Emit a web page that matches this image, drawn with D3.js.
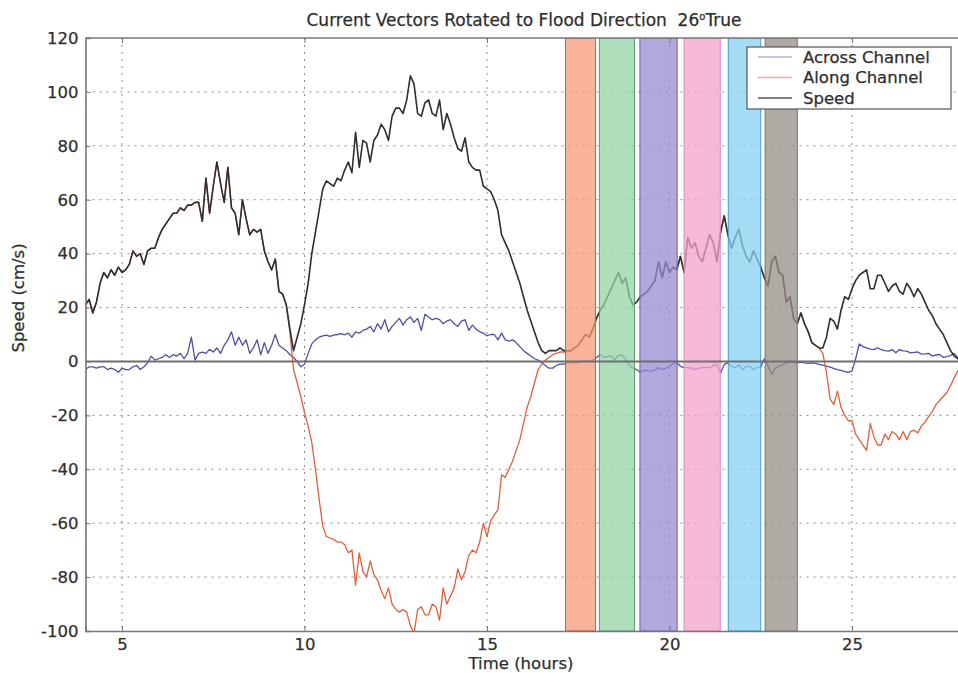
<!DOCTYPE html>
<html>
<head>
<meta charset="utf-8">
<script src="https://cdn.jsdelivr.net/npm/d3@7"></script>
<style>
  body { margin: 0; background: #fff; }
  text { font-family: "DejaVu Sans", "Liberation Sans", Arial, sans-serif; fill: #2e2e2e; stroke: #2e2e2e; stroke-width: 0.25px; }
</style>
</head>
<body>
<svg id="chart"></svg>
<script>
// samples every 0.1 h starting at 4 h
var t0 = 4, dt = 0.1

var speed = [
  21,23,18,22,29,33,31,34,32,35,
  33,34,36,41,39,40,36,41,42,42,
  46,49,51,53,55,55,57,56,58,58,
  59,59,52,68,55,65,74,66,59,72,
  57,55,47,60,53,47,49,48,49,41,
  37,34,38,26,25,21,12,4,9,14,
  21,29,40,48,56,64,67,66,65,68,
  67,71,74,70,85,72,82,81,74,82,
  84,88,86,82,91,94,94,92,97,106,
  103,92,91,96,97,92,91,97,86,92,
  88,83,79,78,83,74,72,71,71,65,
  64,63,60,56,47,44,41,37,33,29,
  24,19,15,11,7,4,3,4,4,4,
  5,4,4,4,5,6,8,10,9,12,
  16,19,21,24,27,30,33,29,31,24,
  21,22,24,25,26,28,30,37,31,37,
  33,35,34,39,33,46,42,44,39,37,
  42,47,44,37,48,54,47,42,46,49,
  43,39,37,41,38,35,31,28,37,39,
  33,32,22,24,16,14,18,14,11,7,
  6,5,5,9,16,15,12,19,24,23,
  27,30,32,33,34,27,27,32,32,29,
  26,28,29,26,25,29,27,24,27,25,
  22,19,17,14,12,10,7,4,2,1,
  1
]

var across = [
  -3,-2,-2,-2.5,-2,-2,-3,-2.5,-3,-4,
  -2.5,-3,-3,-2,-1.5,-3,-2,-0.5,2,0.5,
  1,1.5,2.5,1.5,2.5,2,3,1,3,9,
  0.5,3,3.5,3,4.5,3.5,5,3,6,8,
  11,6,9,6,8,3,5,8,2.5,7,
  3,6,10,6,5,4,2.5,1.5,0,-2,
  -1,3,6.5,8,9,9.5,9.8,9.3,9.8,10,
  10.3,9.9,10.5,9,11,10.5,11.5,12,13,11,
  14,12,15.5,11,13,14.5,16,13.5,15.5,16.5,
  14.5,16,11.5,17.5,16.5,15.5,16,15.5,14,15,
  15.5,14,13,15,15.5,11.5,13.5,12,11,10.5,
  9.5,10,10,8,10.5,8,7.5,8,7,5.5,
  4,3,2,1,0.5,-0.5,-1.5,-2.5,-2.5,-1.5,
  -1,-1,-0.5,-0.5,-0.5,-0.3,0,0,0,0.5,
  1.5,2.6,1.5,1.8,2,0.7,2.2,2.4,1,-1.5,
  -2.5,-3,-4,-3.2,-3.5,-3.6,-3.2,-2.3,-3,-2.5,
  -1.7,-0.8,-0.5,-1.8,-2.3,-2.3,-2.5,-3,-2.6,-2.3,
  -2.3,-2.3,-1.5,-1.1,-4.2,-1.1,-0.5,-1.8,-2.3,-1.2,
  -3,-2,-1.7,-3,-2.3,-2,1,-1.5,-4.8,-2.5,
  -1.7,-1.3,-0.5,0.1,-0.3,-0.5,-0.2,-0.5,-0.7,-0.5,
  -0.7,-1.1,-1.4,-1.7,-2.1,-2.6,-3,-3.3,-3.8,-4,
  -3.6,1,6.5,5.5,5,4.6,4.4,5.1,4.4,4,
  3.8,4.4,3.2,4.4,3.9,3.8,3.2,3.4,3.5,2.7,
  2.8,3,2,2.4,2.6,1.5,1.8,2.2,3,1.4,
  0.7
]

var along = [
  21,23,18,22,29,33,31,34,32,35,
  33,34,36,41,39,40,36,41,42,42,
  46,49,51,53,55,55,57,56,58,58,
  59,59,52,68,55,65,74,66,59,72,
  57,55,47,60,53,47,49,48,49,41,
  37,34,38,26,25,21,11,-3,-8,-13,
  -19,-24,-30,-40,-51,-61,-65,-65.5,-66,-67,
  -67,-68,-71,-70,-83,-71,-78,-80,-74,-79,
  -81,-85,-88,-84,-90,-92,-93,-92,-93,-98,
  -101,-92,-91,-94,-94,-90,-91,-96,-84,-90,
  -87,-84,-77,-81,-78,-72,-70,-71,-67,-60,
  -65,-59,-57,-55,-42,-43,-40,-37,-33,-29,
  -23,-17,-13,-8,-3,-1,0.5,1.5,2.5,3,
  3.5,3.5,3.5,4,5,6,8,10,9,12,
  16,19,21,24,27,30,33,29,31,24,
  21,22,24,25,26,28,30,37,31,37,
  33,35,34,39,33,46,42,44,39,37,
  42,47,44,37,48,54,47,42,46,49,
  43,39,37,41,38,35,31,28,37,39,
  33,32,22,24,16,14,18,14,11,7,
  6,5,3,-4,-14,-16,-11,-17,-20,-22,
  -22,-27,-29,-31,-33,-23,-28,-31,-31,-27,
  -29,-26,-27,-29,-26,-29,-26,-25.5,-26.5,-24,
  -22.5,-20.5,-18.5,-16,-14.5,-13,-11.5,-9,-6,-3.5,
  -2
]

// shaded sampling windows (hours)
var bands = [
  {from: 17.15, to: 17.97, fill: "#f59a78", edge: "#c8613f"},
  {from: 18.08, to: 19.04, fill: "#93d3a6", edge: "#5d9e6e"},
  {from: 19.19, to: 20.21, fill: "#978bd2", edge: "#6d62aa"},
  {from: 20.40, to: 21.39, fill: "#f3a3cb", edge: "#d98ab4"},
  {from: 21.61, to: 22.50, fill: "#86d2f2", edge: "#3c9fd2"},
  {from: 22.62, to: 23.50, fill: "#968d86", edge: "#7a716b"}
]

var xTicks = [5, 10, 15, 20, 25]
var yTicks = [-100, -80, -60, -40, -20, 0, 20, 40, 60, 80, 100, 120]

var series = [
  {name: "Across Channel", values: across, color: "#4f4fa8", key: "#b3b0e6", w: 1.3},
  {name: "Along Channel", values: along, color: "#e0603e", key: "#f2aaaa", w: 1.3},
  {name: "Speed", values: speed, color: "#2f2f2f", key: "#555555", w: 1.6}
]

var width = 958, height = 673
var pLeft = 85.5, pRight = 961.5, pTop = 38, pBottom = 631

var svg = d3.select("#chart")
    .attr("width", width)
    .attr("height", height)

svg.append("rect").attr("width", width).attr("height", height).attr("fill", "#fff")

var x = d3.scaleLinear().domain([4, 28]).range([pLeft, pRight])
var y = d3.scaleLinear().domain([-100, 120]).range([pBottom, pTop])

svg.append("defs").append("clipPath").attr("id", "plot")
    .append("rect")
    .attr("x", pLeft).attr("y", pTop)
    .attr("width", pRight - pLeft).attr("height", pBottom - pTop)

// grid
var grid = svg.append("g")
    .attr("stroke", "#8a8a8a")
    .attr("stroke-width", 1)
    .attr("stroke-dasharray", "2,5")
grid.selectAll("line.gx")
    .data(xTicks)
    .enter()
    .append("line")
        .attr("x1", d => x(d)).attr("x2", d => x(d))
        .attr("y1", pTop).attr("y2", pBottom)
grid.selectAll("line.gy")
    .data(yTicks.filter(d => d != 0 && d != 120 && d != -100))
    .enter()
    .append("line")
        .attr("x1", pLeft).attr("x2", pRight)
        .attr("y1", d => y(d)).attr("y2", d => y(d))

var plot = svg.append("g").attr("clip-path", "url(#plot)")

var line = d3.line()
    .x((d, i) => x(t0 + i * dt))
    .y(d => y(d))

series.forEach(function (s) {
    plot.append("path")
        .datum(s.values)
        .attr("d", line)
        .attr("fill", "none")
        .attr("stroke", s.color)
        .attr("stroke-width", s.w)
        .attr("stroke-linejoin", "round")
})

plot.selectAll("rect.band")
    .data(bands)
    .enter()
    .append("rect")
        .attr("x", d => x(d.from))
        .attr("y", pTop)
        .attr("width", d => x(d.to) - x(d.from))
        .attr("height", pBottom - pTop)
        .attr("fill", d => d.fill)
        .attr("fill-opacity", 0.75)
        .attr("stroke", d => d.edge)
        .attr("stroke-width", 1)

// zero line
svg.append("line")
    .attr("x1", pLeft).attr("x2", pRight)
    .attr("y1", y(0)).attr("y2", y(0))
    .attr("stroke", "#6e6e6e")
    .attr("stroke-width", 2)

// axes
var xAxis = d3.axisBottom(x).tickValues(xTicks).tickSize(-5).tickPadding(7)
var yAxis = d3.axisLeft(y).tickValues(yTicks).tickSize(-5).tickPadding(7)
    .tickFormat(d => String(d))

var gx = svg.append("g").attr("transform", "translate(0," + pBottom + ")").call(xAxis)
var gy = svg.append("g").attr("transform", "translate(" + pLeft + ",0)").call(yAxis)
;[gx, gy].forEach(function (g) {
    g.select(".domain").attr("stroke", "#777").attr("stroke-width", 1.6)
    g.selectAll(".tick line").attr("stroke", "#777")
    g.selectAll("text")
        .style("font-family", "'DejaVu Sans', sans-serif")
        .style("font-size", "16.5px")
        .attr("fill", "#2e2e2e")
})
svg.append("line")
    .attr("x1", pLeft).attr("x2", pRight)
    .attr("y1", pTop).attr("y2", pTop)
    .attr("stroke", "#777").attr("stroke-width", 1.6)
svg.append("g").attr("transform", "translate(0," + pTop + ")")
    .call(d3.axisTop(x).tickValues(xTicks).tickSize(-5).tickFormat(""))
    .call(g => g.select(".domain").remove())
    .selectAll("line").attr("stroke", "#777")

// labels
var title = svg.append("text")
    .attr("x", 524).attr("y", 26)
    .attr("text-anchor", "middle")
    .style("font-size", "17px")
title.append("tspan").text("Current Vectors Rotated to Flood Direction\u00a0\u00a026")
title.append("tspan").attr("dy", -6).style("font-size", "10px").text("o")
title.append("tspan").attr("dy", 6).text("True")

svg.append("text")
    .attr("x", 521).attr("y", 669)
    .attr("text-anchor", "middle")
    .style("font-size", "16.5px")
    .text("Time (hours)")

svg.append("text")
    .attr("transform", "translate(24,298) rotate(-90)")
    .attr("text-anchor", "middle")
    .style("font-size", "16.5px")
    .text("Speed (cm/s)")

// legend
var legend = svg.append("g")
legend.append("rect")
    .attr("x", 747).attr("y", 47)
    .attr("width", 204).attr("height", 62)
    .attr("fill", "#fff")
    .attr("stroke", "#555")
    .attr("stroke-width", 1.2)
var rows = legend.selectAll("g.row")
    .data(series)
    .enter()
    .append("g")
        .attr("transform", (d, i) => "translate(0," + (57 + i * 20.5) + ")")
rows.append("line")
    .attr("x1", 758).attr("x2", 792)
    .attr("stroke", d => d.key)
    .attr("stroke-width", 1.5)
rows.append("text")
    .attr("x", 803).attr("dy", "0.35em")
    .style("font-size", "16.5px")
    .text(d => d.name)
</script>
</body>
</html>
